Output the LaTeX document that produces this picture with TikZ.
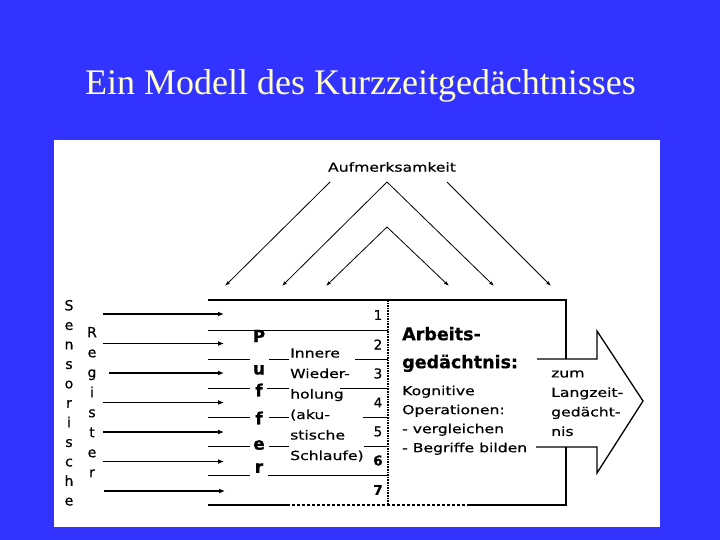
\documentclass[tikz,border=0pt]{standalone}
\usepackage{fontspec}
\setmainfont{Liberation Serif}
\newfontfamily\scanfont[FakeStretch=1.25,FakeBold=0.6]{DejaVu Sans}
\newfontfamily\plainsans[FakeBold=0.6]{DejaVu Sans}
\usetikzlibrary{arrows.meta}
\definecolor{slideblue}{RGB}{51,51,255}
\definecolor{titleyellow}{RGB}{255,255,200}

\begin{document}
\begin{tikzpicture}[x=1pt, y=-1pt, >=Latex,
    scantext/.style={font=\scanfont\fontsize{12}{19.5}\selectfont, inner sep=0pt, align=left, anchor=north west},
    column/.style={font=\plainsans\fontsize{14}{19.5}\selectfont, inner sep=0pt, align=center, anchor=north},
    bufletter/.style={font=\plainsans\bfseries\fontsize{17}{17}\selectfont, inner sep=0pt},
    rownum/.style={font=\plainsans\fontsize{13.5}{13.5}\selectfont, inner sep=0pt},
    inarrow/.style={line width=1.5pt, -{Latex[length=6pt,width=5pt]}},
    attarrow/.style={line width=0.8pt, -{Latex[length=5pt,width=3.5pt]}},
    boxline/.style={line width=1.3pt},
    rowline/.style={line width=0.9pt}]
    % slide and scanned sheet
    \fill[slideblue] (0,0) rectangle (720,540);
    \fill[white] (54,140) rectangle (660,527);
    \node[font=\fontsize{36}{40}\selectfont, text=titleyellow, anchor=base] (title) at (360.5,95) {Ein Modell des Kurzzeitgedächtnisses};

    % attention arrows
    \node[font=\scanfont\fontsize{12.5}{12.5}\selectfont, inner sep=0pt] (attention) at (392,167) {Aufmerksamkeit};
    \coordinate (attleft) at (330,182);
    \coordinate (attright) at (447,182);
    \coordinate (apexout) at (387,182);
    \coordinate (apexin) at (387,227);
    \coordinate (down1) at (225,286);
    \coordinate (down2) at (282,286);
    \coordinate (down3) at (326,286);
    \coordinate (down4) at (449,286);
    \coordinate (down5) at (494,286);
    \coordinate (down6) at (551,286);
    \draw[attarrow] (attleft) -- (down1);
    \draw[attarrow] (apexout) -- (down2);
    \draw[attarrow] (apexin) -- (down3);
    \draw[attarrow] (apexin) -- (down4);
    \draw[attarrow] (apexout) -- (down5);
    \draw[attarrow] (attright) -- (down6);

    % store outline with the arrow to long-term memory
    \draw[boxline] (208,300) -- (566,300) -- (566,359);
    \draw[boxline] (537,359) -- (597,359) -- (597,331) -- (643,401) -- (597,473) -- (597,447) -- (536,447);
    \draw[boxline] (566,447) -- (566,505) -- (470,505);
    \draw[boxline, densely dashed] (470,505) -- (288,505);
    \draw[boxline] (288,505) -- (208,505);
    \draw[line width=1.6pt, densely dotted] (388,300) -- (388,505);

    % rows of the buffer
    \draw[rowline] (208,330) -- (388,330);
    \draw[rowline] (208,359) -- (250,359) (269,359) -- (289,359) (355,359) -- (388,359);
    \draw[rowline] (208,388) -- (250,388) (267,388) -- (289,388) (340,388) -- (388,388);
    \draw[rowline] (208,417) -- (250,417) (269,417) -- (289,417) (363,417) -- (388,417);
    \draw[rowline] (208,446) -- (250,446) (269,446) -- (289,446) (364,446) -- (388,446);
    \draw[rowline] (208,475) -- (250,475) (268,475) -- (388,475);
    \node[rownum] (num1) at (378,315) {1};
    \node[rownum] (num2) at (378,344.5) {2};
    \node[rownum] (num3) at (378,373.5) {3};
    \node[rownum] (num4) at (378,402.5) {4};
    \node[rownum] (num5) at (378,431.5) {5};
    \node[rownum, font=\plainsans\bfseries\fontsize{13.5}{13.5}\selectfont] (num6) at (378,460.5) {6};
    \node[rownum, font=\plainsans\bfseries\fontsize{13.5}{13.5}\selectfont] (num7) at (378,490) {7};

    % sensory register
    \node[column] (sensory) at (69,299.8) {S\\e\\n\\s\\o\\r\\i\\s\\c\\h\\e};
    \node[column, font=\plainsans\fontsize{14}{20}\selectfont] (register) at (92,326.8) {R\\e\\g\\i\\s\\t\\e\\r};
    \coordinate (in1) at (103,314);
    \coordinate (in2) at (103,343.5);
    \coordinate (in3) at (109,373);
    \coordinate (in4) at (103,402.5);
    \coordinate (in5) at (103,432);
    \coordinate (in6) at (103,461.5);
    \coordinate (in7) at (104,491);
    \coordinate (tip1) at (224,314);
    \coordinate (tip2) at (224,343.5);
    \coordinate (tip3) at (224,373);
    \coordinate (tip4) at (224,402.5);
    \coordinate (tip5) at (224,432);
    \coordinate (tip6) at (224,461.5);
    \coordinate (tip7) at (225,491);
    \draw[inarrow] (in1) -- (tip1);
    \draw[inarrow] (in2) -- (tip2);
    \draw[inarrow] (in3) -- (tip3);
    \draw[inarrow] (in4) -- (tip4);
    \draw[inarrow] (in5) -- (tip5);
    \draw[inarrow] (in6) -- (tip6);
    \draw[inarrow] (in7) -- (tip7);

    % buffer and rehearsal loop
    \node[bufletter] (bufP) at (259,336) {P};
    \node[bufletter] (bufu) at (259,370) {u};
    \node[bufletter] (buff1) at (259,390) {f};
    \node[bufletter] (buff2) at (259,418) {f};
    \node[bufletter] (bufe) at (259,445) {e};
    \node[bufletter] (bufr) at (259,468) {r};
    \node[scantext, font=\scanfont\fontsize{12.5}{20.5}\selectfont] (rehearsal) at (290,348.2) {Innere\\Wieder-\\holung\\(aku-\\stische\\Schlaufe)};

    % working memory
    \node[scantext, font=\plainsans\bfseries\fontsize{17.5}{28}\selectfont] (working) at (402,326.7) {Arbeits-\\gedächtnis:};
    \node[scantext, font=\scanfont\fontsize{12.5}{19}\selectfont] (cognitive) at (402,385.5) {Kognitive\\Operationen:\\- vergleichen\\- Begriffe bilden};
    \node[scantext, font=\scanfont\fontsize{12.5}{19.5}\selectfont] (longterm) at (551,370.2) {zum\\Langzeit-\\gedächt-\\nis};
  \end{tikzpicture}
\end{document}
